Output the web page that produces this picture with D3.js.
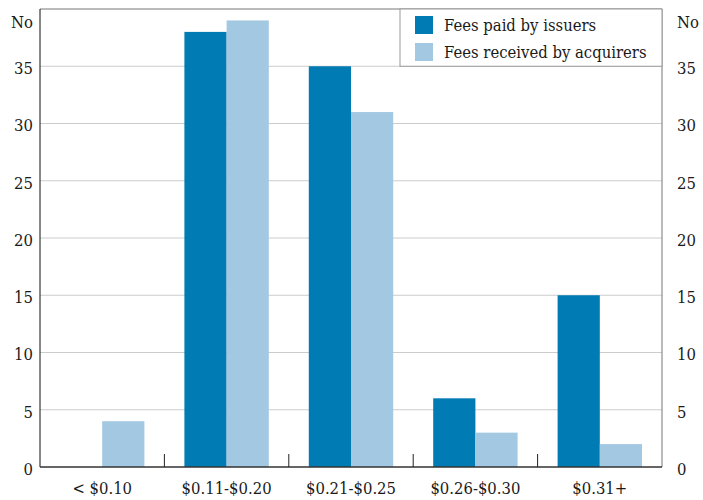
<!DOCTYPE html>
<html>
<head>
<meta charset="utf-8">
<script src="https://cdn.jsdelivr.net/npm/d3@7"></script>
<style>
body { margin: 0; background: #fff; }
</style>
</head>
<body>
<script>
// data
var categories = ["< $0.10", "$0.11-$0.20", "$0.21-$0.25", "$0.26-$0.30", "$0.31+"];
var issuers = [0, 38, 35, 6, 15];
var acquirers = [4, 39, 31, 3, 2];
var seriesNames = ["Fees paid by issuers", "Fees received by acquirers"];
var yTicks = [0, 5, 10, 15, 20, 25, 30, 35];

var colors = ["#007bb4", "#a3c8e1"];
var font = "'DejaVu Serif Condensed', 'DejaVu Serif', serif";
var fs = "16.5px";

var margin = {top: 9, bottom: 33, right: 41, left: 40},
    width = 703 - margin.left - margin.right,
    height = 500 - margin.top - margin.bottom;

var svg = d3.select("body").append("svg")
    .attr("width", 703)
    .attr("height", 500)
    .attr("font-family", font)
    .style("font-stretch", "condensed")
    .append("g")
    .attr("transform", "translate(" + margin.left + "," + margin.top + ")");

var x = d3.scaleBand().domain(categories).range([0, width]);
var x1 = d3.scaleBand().domain([0, 1]).range([20, x.bandwidth() - 20]);
var y = d3.scaleLinear().domain([0, 40]).range([height, 0]);

// gridlines
svg.append("g").selectAll("line")
    .data(yTicks.slice(1))
    .join("line")
    .attr("x1", 0).attr("x2", width)
    .attr("y1", d => y(d)).attr("y2", d => y(d))
    .style("stroke", "#cccccc");

// bars
var rows = categories.map(function(c, i) { return {cat: c, vals: [issuers[i], acquirers[i]]}; });
var groups = svg.append("g").selectAll("g")
    .data(rows)
    .join("g")
    .attr("transform", d => "translate(" + x(d.cat) + ",0)");
groups.selectAll("rect")
    .data(d => d.vals.map((v, k) => ({k: k, v: v})))
    .join("rect")
    .attr("x", d => x1(d.k))
    .attr("width", x1.bandwidth())
    .attr("y", d => y(d.v))
    .attr("height", d => height - y(d.v))
    .style("fill", d => colors[d.k]);

// frame
svg.append("line").attr("x1", 0).attr("x2", width).attr("y1", 0).attr("y2", 0)
    .style("stroke", "#777");
svg.append("line").attr("x1", width).attr("x2", width).attr("y1", 0).attr("y2", height)
    .style("stroke", "#777");
svg.append("line").attr("x1", 0).attr("x2", 0).attr("y1", 0).attr("y2", height)
    .style("stroke", "#111");
svg.append("line").attr("x1", 0).attr("x2", width).attr("y1", height).attr("y2", height)
    .style("stroke", "#333").style("stroke-width", 1.5);

// category separators
svg.append("g").selectAll("line")
    .data(categories.slice(1))
    .join("line")
    .attr("x1", d => x(d)).attr("x2", d => x(d))
    .attr("y1", height).attr("y2", height - 13)
    .style("stroke", "#222");

// y labels left and right
[{ax: -7, anchor: "end"}, {ax: width + 15, anchor: "start"}].forEach(function(s) {
  svg.append("g").selectAll("text")
      .data(yTicks)
      .join("text")
      .attr("x", s.ax)
      .attr("y", d => y(d) + 2)
      .attr("dy", "0.35em")
      .attr("text-anchor", s.anchor)
      .style("font-size", fs)
      .style("fill", "#1a1a1a")
      .text(d => d);
  svg.append("text")
      .attr("x", s.ax)
      .attr("y", 13)
      .attr("dy", "0.35em")
      .attr("text-anchor", s.anchor)
      .style("font-size", fs)
      .style("fill", "#1a1a1a")
      .text("No");
});

// x labels
svg.append("g").selectAll("text")
    .data(categories)
    .join("text")
    .attr("x", d => x(d) + x.bandwidth() / 2)
    .attr("y", height + 27)
    .attr("text-anchor", "middle")
    .style("font-size", fs)
    .style("fill", "#1a1a1a")
    .text(d => d);

// legend
var lg = svg.append("g").attr("transform", "translate(360,0)");
lg.append("rect").attr("x", 0).attr("y", 0)
    .attr("width", width - 360).attr("height", y(35))
    .style("fill", "#fff").style("stroke", "#999");
seriesNames.forEach(function(n, i) {
  lg.append("rect")
      .attr("x", 15).attr("y", 7 + i * 27)
      .attr("width", 18).attr("height", 18)
      .style("fill", colors[i]);
  lg.append("text")
      .attr("x", 44).attr("y", 22 + i * 27)
      .style("font-size", fs)
      .style("fill", "#1a1a1a")
      .text(n);
});
</script>
</body>
</html>
